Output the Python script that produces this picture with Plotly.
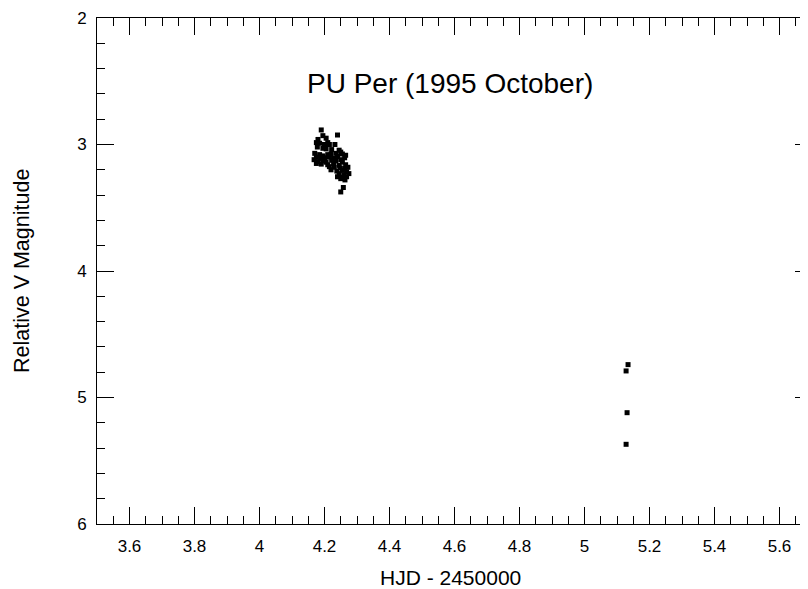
import plotly.graph_objects as go

# HJD - 2450000 and relative V magnitude
hjd = [4.190, 4.240, 4.195, 4.205, 4.180, 4.175, 4.185, 4.210, 4.200, 4.215, 4.232, 4.178,
       4.195, 4.205, 4.222, 4.245, 4.250,
       4.170, 4.185, 4.195, 4.210, 4.220, 4.235, 4.255, 4.265, 4.175, 4.188, 4.200, 4.215,
       4.228, 4.240, 4.250, 4.262, 4.168, 4.180, 4.195, 4.205, 4.222, 4.235, 4.255, 4.190,
       4.210, 4.228, 4.245, 4.265, 4.175,
       4.215, 4.230, 4.248, 4.262, 4.272, 4.220, 4.238, 4.255, 4.268, 4.245, 4.260, 4.275,
       4.240, 4.255, 4.268, 4.250, 4.263,
       4.258, 4.250,
       5.134, 5.128, 5.131, 5.128]
vmag = [2.885, 2.925, 2.930, 2.950, 2.960, 2.985, 2.990, 2.985, 3.000, 3.000, 3.000, 3.020,
        3.030, 3.035, 3.040, 3.045, 3.060,
        3.070, 3.080, 3.090, 3.080, 3.075, 3.070, 3.075, 3.085, 3.100, 3.110, 3.105, 3.100,
        3.110, 3.095, 3.120, 3.105, 3.120, 3.135, 3.130, 3.140, 3.125, 3.130, 3.140, 3.155,
        3.160, 3.150, 3.165, 3.160, 3.150,
        3.175, 3.180, 3.185, 3.190, 3.180, 3.200, 3.210, 3.205, 3.215, 3.230, 3.240, 3.230,
        3.255, 3.260, 3.255, 3.270, 3.280,
        3.340, 3.375,
        4.740, 4.790, 5.120, 5.370]

title_text = "PU Per (1995 October)"
x_title = "HJD - 2450000"
y_title = "Relative V Magnitude"

FONT = "Liberation Sans, Arial, Helvetica, sans-serif"

fig = go.Figure()
fig.add_trace(go.Scatter(
    x=hjd, y=vmag, mode="markers",
    marker=dict(symbol="square", size=5, color="black", line=dict(width=0)),
    showlegend=False, hoverinfo="x+y",
))

# annotations in paper coordinates; plot area is 89..804 (page 97..812)
fig.add_annotation(
    x=(450 - 97) / 715, y=0.8696, xref="paper", yref="paper", text=title_text, showarrow=False,
    xanchor="center", yanchor="middle",
    font=dict(family=FONT, size=28, color="black"),
)
fig.add_annotation(
    x=(450 - 97) / 715, y=-0.1067, xref="paper", yref="paper", text=x_title, showarrow=False,
    xanchor="center", yanchor="middle",
    font=dict(family=FONT, size=21, color="black"),
)
fig.add_annotation(
    x=(22 - 97) / 715, y=0.5, xref="paper", yref="paper", text=y_title, showarrow=False,
    xanchor="center", yanchor="middle", textangle=-90,
    font=dict(family=FONT, size=21.5, color="black"),
)

# the page body has an 8px margin; the plot's right edge runs just past the window
fig.update_layout(
    width=804, height=581,
    margin=dict(l=89, r=0, t=10, b=65, pad=0, autoexpand=False),
    plot_bgcolor="white", paper_bgcolor="white",
    font=dict(family=FONT, size=17, color="black"),
    xaxis=dict(
        range=[3.5, 5.7], tick0=3.6, dtick=0.2, ticks="inside", ticklen=17, tickwidth=1,
        tickcolor="black", showline=True, linecolor="black", linewidth=1, mirror="allticks",
        showgrid=False, zeroline=False, ticklabelstandoff=7, automargin=False,
        minor=dict(ticks="inside", ticklen=8, tickwidth=1, tickcolor="black", dtick=0.05,
                   tick0=3.5, showgrid=False),
        tickfont=dict(family=FONT, size=17),
    ),
    yaxis=dict(
        range=[6, 2], tick0=2, dtick=1, ticks="inside", ticklen=17, tickwidth=1,
        tickcolor="black", showline=True, linecolor="black", linewidth=1, mirror="allticks",
        showgrid=False, zeroline=False, ticklabelstandoff=6, automargin=False,
        minor=dict(ticks="inside", ticklen=8, tickwidth=1, tickcolor="black", dtick=0.2,
                   tick0=2, showgrid=False),
        tickfont=dict(family=FONT, size=17),
    ),
)

fig.write_html("out.html")
